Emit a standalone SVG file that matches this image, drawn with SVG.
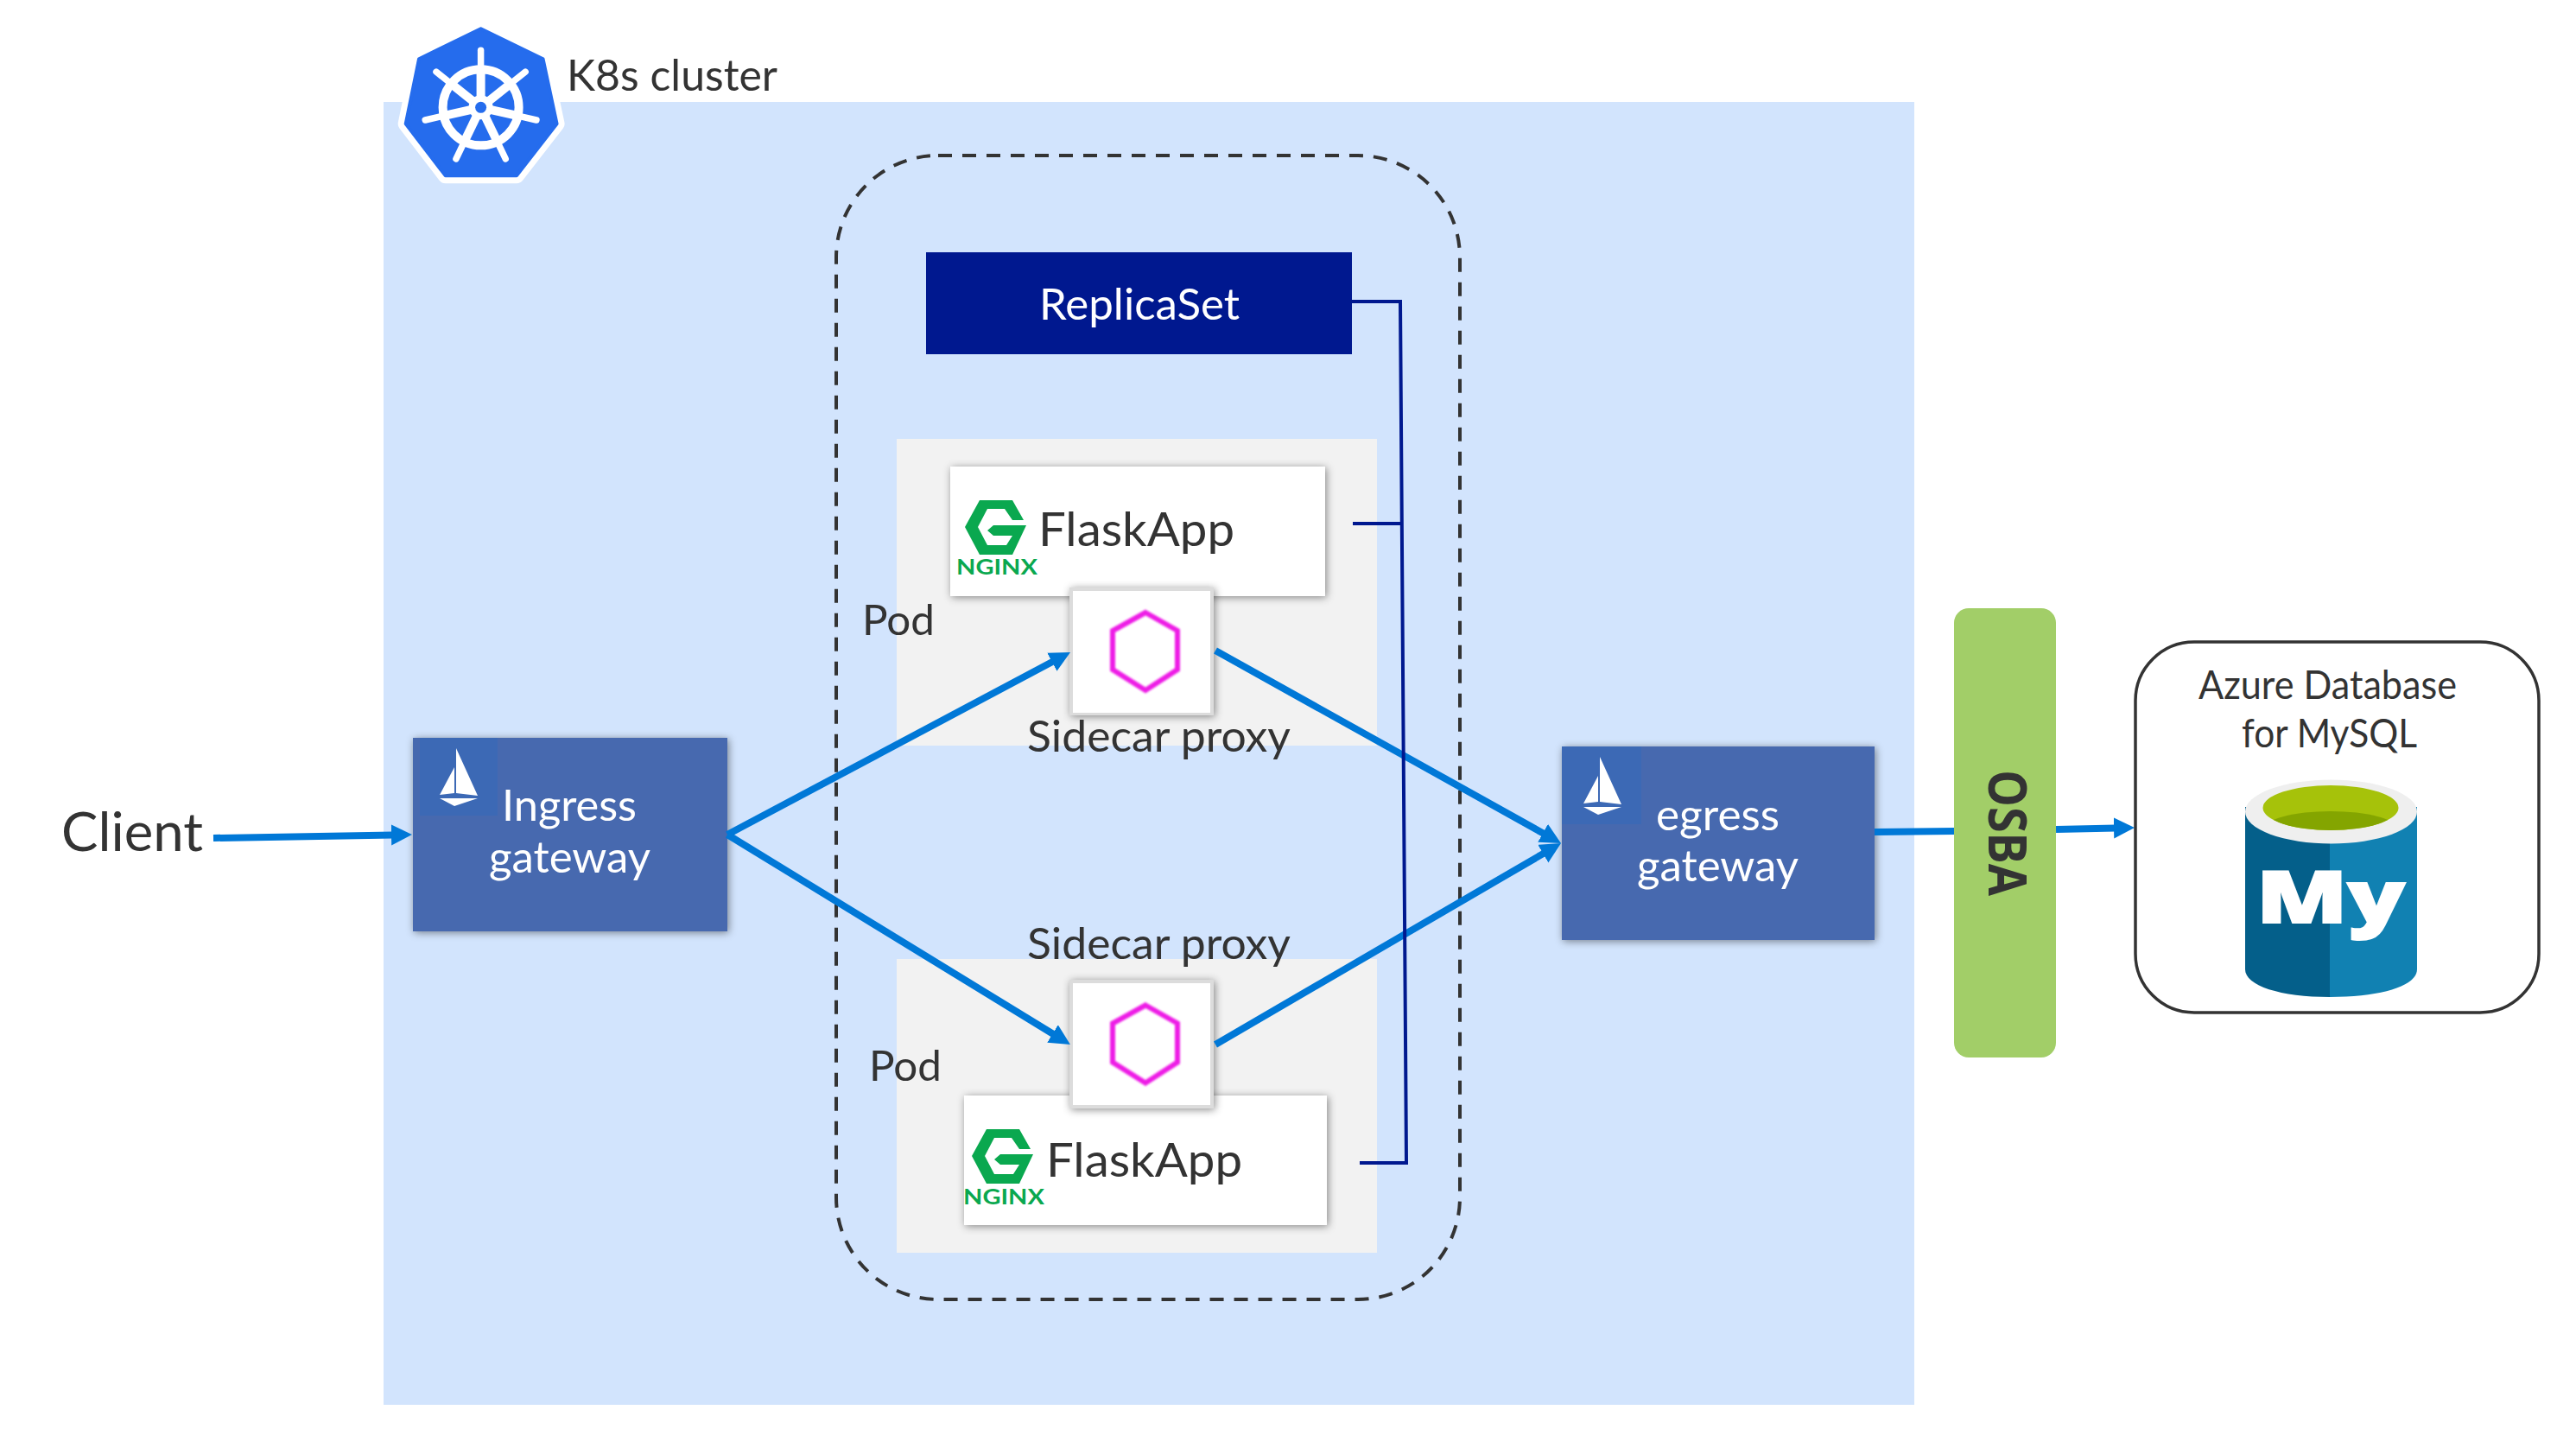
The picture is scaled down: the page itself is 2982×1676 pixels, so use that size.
<svg xmlns="http://www.w3.org/2000/svg" xmlns:xlink="http://www.w3.org/1999/xlink" width="2982" height="1676" viewBox="0 0 2982 1676">
<style>
text{font-family:"Lato","Noto Sans",sans-serif;fill:#333}
.w{fill:#fff}
.t55{font-size:50px}
.t60{font-size:55px}
.pod{fill:#f2f2f2}
.box{fill:#fff;filter:url(#sh)}
.gw{fill:#4669af;filter:url(#sh)}
.ico{fill:#3c69b5}
.blue{stroke:#0078d7;stroke-width:8;fill:none;marker-end:url(#ah)}
.navy{stroke:#00188f;stroke-width:4;fill:none}
.green{fill:#0aa84f}
.ng{font-size:25px;font-weight:700;fill:#0aa84f}
</style>
<defs>
<filter id="sh" x="-15%" y="-15%" width="130%" height="130%"><feDropShadow dx="1.5" dy="1.5" stdDeviation="5" flood-color="#000" flood-opacity="0.45"/></filter>
<filter id="soft" x="-10%" y="-10%" width="120%" height="120%"><feGaussianBlur stdDeviation="0.9"/></filter>
<marker id="ah" markerUnits="userSpaceOnUse" markerWidth="26" markerHeight="26" refX="2" refY="12" orient="auto"><path d="M0,0L24,12L0,24z" fill="#0078d7"/></marker>
<path id="gl" class="green" d="M1134,579H1172L1185,602H1172L1163,589H1143L1132,610L1143,631H1165L1172,620H1150L1143,614L1150,608H1188L1172,642H1134L1117,610z"/>
<g id="sail" fill="#fff"><path d="M528,866L553,921L528,918z"/><path d="M526,888V918L509,920z"/><path d="M509,924H553L526,933z"/></g>
<path id="hex" d="M1326,709L1363,730V775L1326,799L1288,775V730z" fill="none" stroke="#ee1ee6" stroke-width="6" filter="url(#soft)"/>
<g id="sp"><path d="M0,-10V-42" stroke="#fff" stroke-width="10"/><path d="M0,-40V-66" stroke="#fff" stroke-width="7.5" stroke-linecap="round"/></g>
<clipPath id="inner"><ellipse cx="2698" cy="935" rx="78.5" ry="26"/></clipPath>
</defs>

<g id="cluster">
<rect x="444" y="118" width="1772" height="1508" fill="#d2e4fd"/>
<text x="656" y="105" class="t55" textLength="244" lengthAdjust="spacingAndGlyphs">K8s cluster</text>
</g>
<g id="k8s-logo">
<path d="M556.6,33.3L628.6,68.3L644.6,143.3L598,203.3H515.7L469.7,143.3L485,68.3z" fill="#fff" stroke="#fff" stroke-width="18" stroke-linejoin="round"/>
<path d="M556.6,33.3L628.6,68.3L644.6,143.3L598,203.3H515.7L469.7,143.3L485,68.3z" fill="#256ced" stroke="#256ced" stroke-width="4" stroke-linejoin="round"/>
<g transform="translate(556.6,124.3)">
<circle r="44" fill="none" stroke="#fff" stroke-width="10"/>
<use xlink:href="#sp" href="#sp"/>
<use xlink:href="#sp" href="#sp" transform="rotate(51.43)"/>
<use xlink:href="#sp" href="#sp" transform="rotate(102.86)"/>
<use xlink:href="#sp" href="#sp" transform="rotate(154.29)"/>
<use xlink:href="#sp" href="#sp" transform="rotate(205.71)"/>
<use xlink:href="#sp" href="#sp" transform="rotate(257.14)"/>
<use xlink:href="#sp" href="#sp" transform="rotate(308.57)"/>
<circle r="14" fill="#fff"/>
<circle r="6.5" fill="#256ced"/>
</g>
</g>

<g id="pod-top">
<rect class="pod" x="1038" y="508" width="556" height="355"/>
<text x="998" y="735" font-size="48" textLength="84" lengthAdjust="spacingAndGlyphs">Pod</text>
</g>
<g id="pod-bottom">
<rect class="pod" x="1038" y="1110" width="556" height="340"/>
<text x="1006" y="1251" font-size="48" textLength="84" lengthAdjust="spacingAndGlyphs">Pod</text>
</g>
<g id="replicaset-group">
<rect x="968" y="180" width="722" height="1324" rx="118" ry="118" fill="none" stroke="#333" stroke-width="4" stroke-dasharray="16 12"/>
</g>
<g id="replicaset">
<rect x="1072" y="292" width="493" height="118" fill="#00188f"/>
<text class="t55 w" x="1203" y="370" textLength="232" lengthAdjust="spacingAndGlyphs">ReplicaSet</text>
</g>

<g id="flaskapp-top">
<rect class="box" x="1100" y="540" width="434" height="150"/>
<use xlink:href="#gl" href="#gl"/>
<text class="ng" x="1107" y="665" textLength="94" lengthAdjust="spacingAndGlyphs">NGINX</text>
<text class="t60" x="1202" y="632" textLength="227" lengthAdjust="spacingAndGlyphs">FlaskApp</text>
</g>
<g id="sidecar-top">
<rect x="1238" y="680" width="167" height="148" fill="#dcdcdc" filter="url(#sh)"/>
<rect x="1242" y="684" width="159" height="141" fill="#fff"/>
<use xlink:href="#hex" href="#hex"/>
<text class="t55" x="1189" y="870" textLength="305" lengthAdjust="spacingAndGlyphs">Sidecar proxy</text>
</g>
<g id="flaskapp-bottom">
<rect class="box" x="1116" y="1268" width="420" height="150"/>
<use xlink:href="#gl" href="#gl" transform="translate(8,728)"/>
<text class="ng" x="1115" y="1394" textLength="94" lengthAdjust="spacingAndGlyphs">NGINX</text>
<text class="t60" x="1211" y="1362" textLength="227" lengthAdjust="spacingAndGlyphs">FlaskApp</text>
</g>
<g id="sidecar-bottom">
<rect x="1238" y="1134" width="167" height="149" fill="#dcdcdc" filter="url(#sh)"/>
<rect x="1242" y="1138" width="159" height="141" fill="#fff"/>
<use xlink:href="#hex" href="#hex" transform="translate(0,454.5)"/>
<text class="t55" x="1189" y="1110" textLength="305" lengthAdjust="spacingAndGlyphs">Sidecar proxy</text>
</g>

<g id="client"><text x="71" y="985" font-size="62" textLength="164" lengthAdjust="spacingAndGlyphs">Client</text></g>
<g id="ingress-gateway">
<rect class="gw" x="478" y="854" width="364" height="224"/>
<rect class="ico" x="486" y="854" width="90" height="90"/>
<use xlink:href="#sail" href="#sail"/>
<text class="t55 w" x="581" y="950" textLength="156" lengthAdjust="spacingAndGlyphs">Ingress</text>
<text class="t55 w" x="566" y="1010" textLength="187" lengthAdjust="spacingAndGlyphs">gateway</text>
</g>
<g id="egress-gateway">
<rect class="gw" x="1808" y="864" width="362" height="224"/>
<rect class="ico" x="1808" y="864" width="92" height="90"/>
<use xlink:href="#sail" href="#sail" transform="translate(1324,10)"/>
<text class="t55 w" x="1917" y="961" textLength="143" lengthAdjust="spacingAndGlyphs">egress</text>
<text class="t55 w" x="1895" y="1020" textLength="187" lengthAdjust="spacingAndGlyphs">gateway</text>
</g>

<g id="connectors">
<path class="blue" d="M247,970L455,966.4"/>
<path class="blue" d="M842,966L1219.6,765.3"/>
<path class="blue" d="M842,966L1220.2,1197.5"/>
<path class="blue" d="M1407,753L1787.8,965.3"/>
<path class="blue" d="M1407,1209L1788,987.1"/>
<path class="blue" style="marker-end:none" d="M2170,963L2263,962"/>
<path class="blue" d="M2380,960L2449,958.4"/>
<path class="navy" d="M1565,349H1621L1628,1346H1574"/>
<path class="navy" d="M1566,606H1622"/>
</g>

<g id="osba">
<rect x="2262" y="704" width="118" height="520" rx="17" fill="#a2ce68"/>
<text transform="translate(2302,891) rotate(90)" font-size="61" font-weight="700" style="font-family:'Open Sans',sans-serif" textLength="146" lengthAdjust="spacingAndGlyphs">OSBA</text>
</g>

<g id="azure-mysql">
<rect x="2472" y="743" width="467" height="429" rx="68" fill="#fff" stroke="#333" stroke-width="3.5"/>
<text x="2545" y="809" font-size="46" textLength="299" lengthAdjust="spacingAndGlyphs">Azure Database</text>
<text x="2595" y="865" font-size="46" textLength="203" lengthAdjust="spacingAndGlyphs">for MySQL</text>
<path d="M2599,934V1122C2599,1141 2640,1154 2697,1154V934z" fill="#045f8a"/>
<path d="M2697,934V1154C2757,1154 2798,1141 2798,1122V934z" fill="#1181b2"/>
<ellipse cx="2698.5" cy="939.5" rx="99.5" ry="37" fill="#efefef"/>
<ellipse cx="2698" cy="935" rx="78.5" ry="26" fill="#a6c20a"/>
<ellipse cx="2698" cy="960" rx="78" ry="21" fill="#84a500" clip-path="url(#inner)"/>
<text x="2612" y="1068" font-size="84" font-weight="800" class="w" style="font-family:'Open Sans',sans-serif;stroke:#fff;stroke-width:2" textLength="172" lengthAdjust="spacingAndGlyphs">My</text>
</g>
</svg>
